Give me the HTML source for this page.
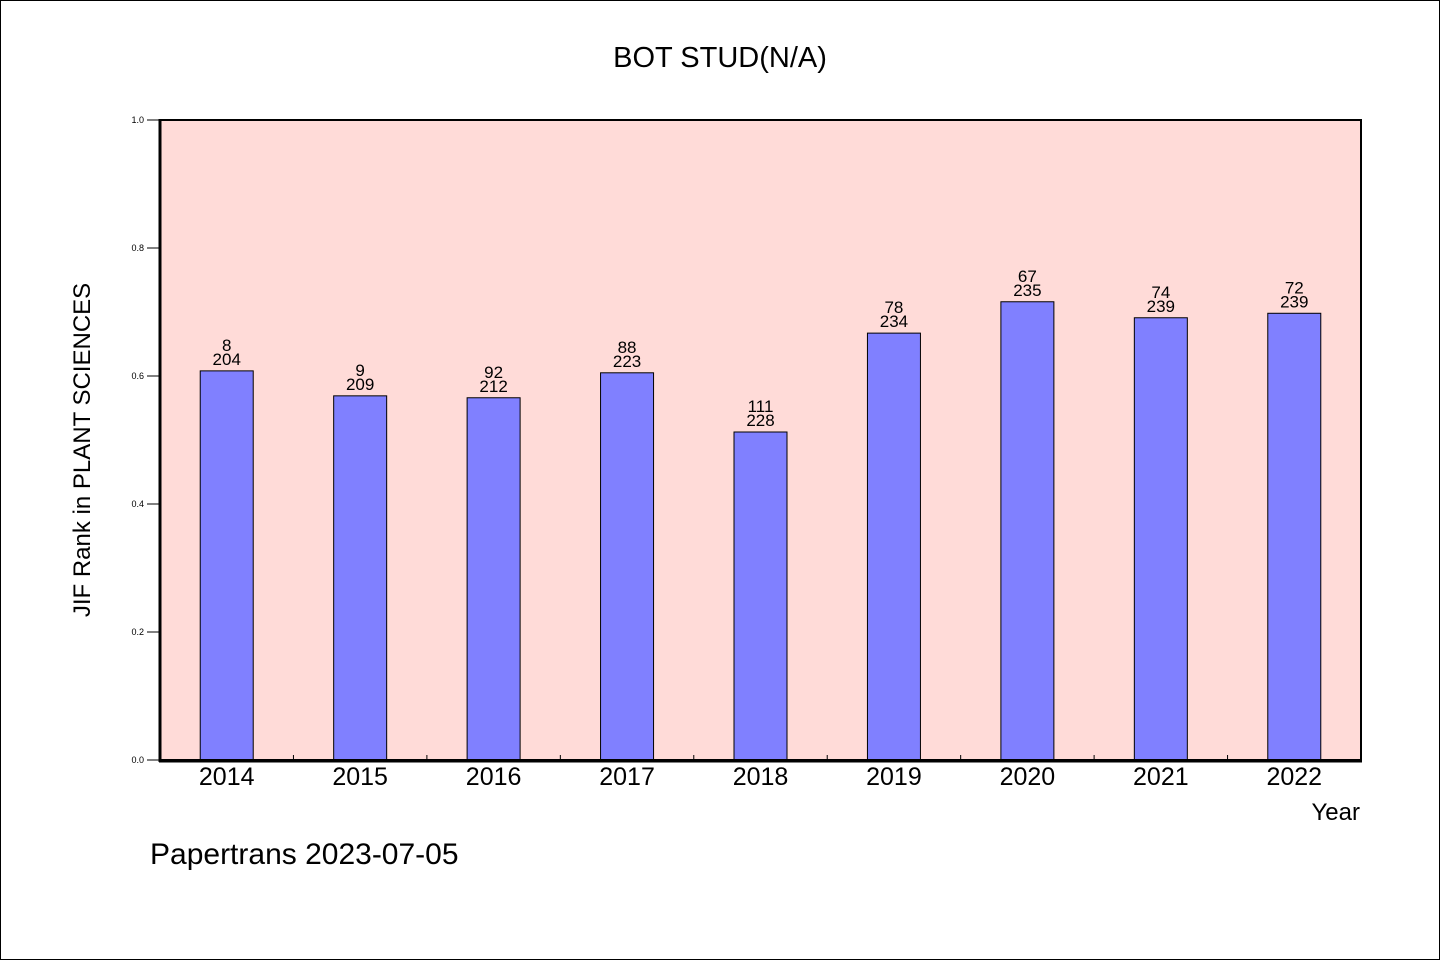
<!DOCTYPE html>
<html><head><meta charset="utf-8"><style>
html,body{margin:0;padding:0;background:#fff;}
svg text{font-family:"WenQuanYi Zen Hei","Liberation Sans",sans-serif;}
</style></head><body>
<svg width="1440" height="960" viewBox="0 0 1440 960">
<rect x="0.5" y="0.5" width="1439" height="959" fill="#fff" stroke="#000"/>
<text x="720" y="67" font-size="29" text-anchor="middle">BOT STUD(N/A)</text>
<rect x="160" y="120" width="1201" height="640" fill="#ffdbd8"/>
<g id="bars"></g>
<rect x="160" y="120" width="1201" height="640" fill="none" stroke="#000" stroke-width="2"/>
<line x1="160" y1="119" x2="160" y2="762" stroke="#000" stroke-width="3"/>
<line x1="159" y1="761" x2="1362" y2="761" stroke="#000" stroke-width="3"/>
<g id="axes"></g>
<text x="90" y="450" font-size="24" text-anchor="middle" transform="rotate(-90 90 450)">JIF Rank in PLANT SCIENCES</text>
<text x="1360" y="820" font-size="24" text-anchor="end">Year</text>
<text x="150" y="864" font-size="30">Papertrans 2023-07-05</text>
</svg>
<script>
const categories=["2014","2015","2016","2017","2018","2019","2020","2021","2022"];
const values=[0.608,0.569,0.566,0.605,0.5125,0.667,0.716,0.691,0.698];
const ranks=["8","9","92","88","111","78","67","74","72"];
const totals=["204","209","212","223","228","234","235","239","239"];
const yTicks=[0,0.2,0.4,0.6,0.8,1.0];
const yTickLabels=["0.0","0.2","0.4","0.6","0.8","1.0"];
const NS="http://www.w3.org/2000/svg";
const X0=160,W=1201,Y0=760,H=640;
const band=W/categories.length;
const xC=i=>X0+band*(i+0.5);
const y=v=>Y0-v*H;
const bars=document.getElementById('bars'),axes=document.getElementById('axes');
function mk(tag,attrs,parent,txt){const e=document.createElementNS(NS,tag);for(const k in attrs)e.setAttribute(k,attrs[k]);if(txt!==undefined)e.textContent=txt;parent.appendChild(e);return e;}
categories.forEach((c,i)=>{
  const bw=53;
  const r=mk('rect',{x:xC(i)-bw/2,y:y(values[i]),width:bw,height:Y0-y(values[i]),fill:'#8080ff',stroke:'#000','stroke-width':1},bars);
  
  
  const t1=mk('text',{x:xC(i),y:y(values[i])-20,'font-size':17,'text-anchor':'middle'},bars,ranks[i]);
  
  
  const t2=mk('text',{x:xC(i),y:y(values[i])-6,'font-size':17,'text-anchor':'middle'},bars,totals[i]);
  
  
  const xl=mk('text',{x:xC(i),y:785,'font-size':25,'text-anchor':'middle'},axes,c);
  
  
  if(i>0){const tk=mk('line',{x1:X0+band*i,x2:X0+band*i,y1:Y0,y2:Y0-5,stroke:'#000'},axes);
    
    }
});
yTicks.forEach((v,i)=>{
  const tk=mk('line',{x1:147,x2:160,y1:y(v),y2:y(v),stroke:'#000'},axes);
  
  
  const tl=mk('text',{x:152-8,y:y(v)+3,'font-size':9,'text-anchor':'end'},axes,yTickLabels[i]);
  
  
});
</script>
</body></html>
